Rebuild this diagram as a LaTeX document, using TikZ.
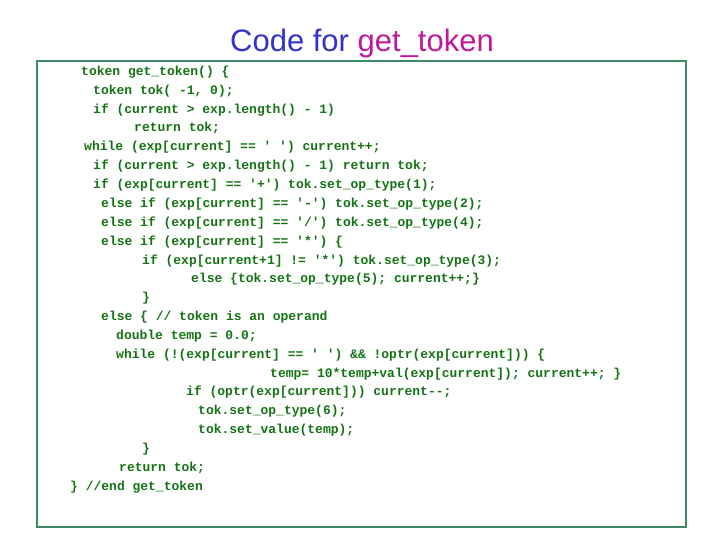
\documentclass[tikz,border=0pt]{standalone}
\usepackage{fontspec}
\setmainfont{Liberation Sans}
\newfontfamily\codefont{Liberation Mono}
\definecolor{codegreen}{HTML}{137313}
\definecolor{framegreen}{HTML}{3F8A66}
\definecolor{titleblue}{HTML}{3333CC}
\definecolor{titlemag}{HTML}{C0189A}
\begin{document}
\begin{tikzpicture}[x=1pt,y=-1pt,
  codeline/.style={anchor=west,inner sep=0pt,text=codegreen,font=\codefont\bfseries\fontsize{13}{13}\selectfont}]
\useasboundingbox (0,0) rectangle (720,540);
\draw[framegreen,line width=2.4pt] (37,61) rectangle (686,527);
\node[font=\fontsize{31}{31}\selectfont,inner sep=0pt] (title) at (362,43) {\textcolor{titleblue}{Code for }\textcolor{titlemag}{get\_token}};
\foreach \i/\x/\y/\t in {
 1/81/72/{token get\_token() \{},
 2/93/91/{token tok( -1, 0);},
 3/93/110/{if (current > exp.length() - 1)},
 4/134/128/{return tok;},
 5/84/147/{while (exp[current] == ' ') current++;},
 6/93/166/{if (current > exp.length() - 1) return tok;},
 7/93/185/{if (exp[current] == '+') tok.set\_op\_type(1);},
 8/101/204/{else if (exp[current] == '-') tok.set\_op\_type(2);},
 9/101/223/{else if (exp[current] == '/') tok.set\_op\_type(4);},
 10/101/242/{else if (exp[current] == '*') \{},
 11/142/261/{if (exp[current+1] != '*') tok.set\_op\_type(3);},
 12/191/279/{else \{tok.set\_op\_type(5); current++;\}},
 13/142/298/{\}},
 14/101/317/{else \{ // token is an operand},
 15/116/336/{double temp = 0.0;},
 16/116/355/{while (!(exp[current] == ' ') \&\& !optr(exp[current])) \{},
 17/270/374/{temp= 10*temp+val(exp[current]); current++; \}},
 18/186/392/{if (optr(exp[current])) current--;},
 19/198/411/{tok.set\_op\_type(6);},
 20/198/430/{tok.set\_value(temp);},
 21/142/449/{\}},
 22/119/468/{return tok;},
 23/70/487/{\} //end get\_token}}
 \node[codeline] (l\i) at (\x,\y) {\t};
\end{tikzpicture}
\end{document}
